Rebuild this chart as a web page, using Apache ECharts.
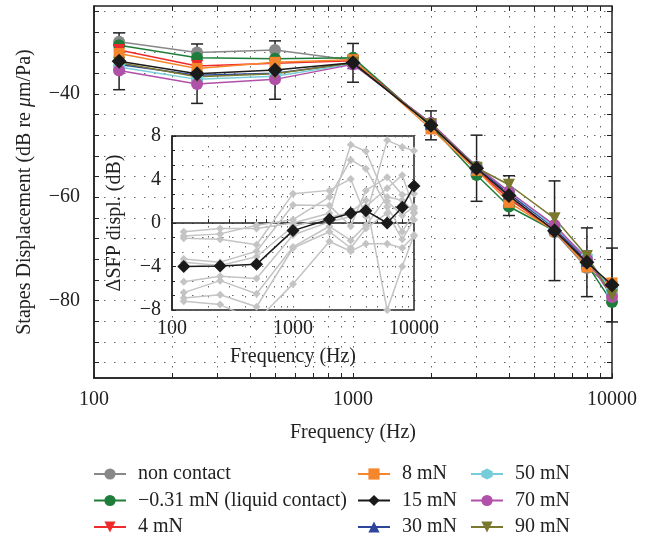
<!DOCTYPE html>
<html><head><meta charset="utf-8">
<script src="https://cdn.jsdelivr.net/npm/echarts@6/dist/echarts.min.js"></script>
<style>html,body{margin:0;padding:0;background:#fff}#c{width:649px;height:539px}</style>
</head><body><div id="c"></div>
<script>
// ---------- data ----------
const freqs = [125, 250, 500, 1000, 2000, 3000, 4000, 6000, 8000, 10000];
const seriesNames = ['non contact', '\u22120.31 mN (liquid contact)', '4 mN', '8 mN', '15 mN', '30 mN', '50 mN', '70 mN', '90 mN'];
const nonContact = [-29.9, -32.0, -31.5, -33.5, -46.0, -54.8, -60.0, -66.8, -73.7, -77.5];
const liquid     = [-30.6, -33.0, -33.2, -33.0, -46.3, -55.7, -61.8, -66.5, -73.0, -80.3];
const mN4        = [-31.5, -34.6, -34.1, -33.6, -46.0, -54.6, -60.4, -66.3, -72.8, -77.5];
const mN8        = [-32.2, -35.1, -33.9, -33.4, -46.8, -54.8, -61.0, -66.5, -73.5, -76.6];
const mN15       = [-33.7, -36.1, -35.4, -34.0, -46.1, -54.4, -59.7, -66.5, -72.6, -77.0];
const mN30       = [-34.3, -36.4, -36.0, -34.1, -45.8, -54.2, -59.3, -66.0, -72.3, -77.8];
const mN50       = [-34.8, -37.2, -36.6, -34.2, -45.7, -54.0, -58.9, -65.8, -71.6, -78.2];
const mN70       = [-35.5, -38.1, -37.2, -34.3, -45.6, -54.1, -58.9, -65.4, -72.0, -79.3];
const mN90       = [-34.0, -36.7, -36.1, -34.0, -45.9, -54.3, -57.6, -64.1, -71.4, -79.0];
const errHalf    = [5.5, 5.75, 5.65, 3.75, 2.8, 6.4, 3.85, 9.65, 6.65, 7.15];

// inset: individual ears (gray) and mean (black)
const insetMean = [-4.0, -3.95, -3.8, -0.7, 0.34, 0.9, 1.13, 0.0, 1.45, 3.4];
const ear1 = [-0.8, -0.5, -0.5, 0.0, 0.9, 7.2, 6.6, 2.0, 0.7, 1.5];
const ear2 = [-1.2, -1.0, -0.2, 0.3, 2.4, 5.8, 5.0, 1.5, -0.8, 0.9];
const ear3 = [-1.4, -1.5, -2.0, 2.7, 3.0, 4.05, 0.6, 7.6, 7.0, 6.65];
const ear4 = [-3.3, -3.6, -2.6, 1.65, 1.6, -0.3, 3.0, 4.2, 2.6, 2.7];
const ear5 = [-3.6, -3.9, -3.1, -0.3, 0.5, 1.0, 2.1, -8.0, -4.0, -1.1];
const ear6 = [-5.4, -4.9, -5.1, -1.1, 0.1, 0.6, 1.5, 3.2, 4.4, 1.3];
const ear7 = [-6.4, -5.3, -6.5, -2.2, -0.3, -1.6, -0.2, 2.4, 2.1, 1.0];
const ear8 = [-6.9, -6.6, -7.7, -2.3, -0.8, -2.3, -0.5, 0.9, -1.5, 0.3];
const ear9 = [-7.2, -7.5, -9.0, -5.6, -1.7, -2.6, -1.9, -1.9, -2.3, -1.2];

// axis ticks
const xMinorTicks = [100,200,300,400,500,600,700,800,900,1000,2000,3000,4000,5000,6000,7000,8000,9000,10000];
const xTickLabels = [100, 1000, 10000];
const yMainTicks = [-92,-88,-84,-80,-76,-72,-68,-64,-60,-56,-52,-48,-44,-40,-36,-32,-28,-24];
const yMainLabels = [-80, -60, -40];

// ---------- styling ----------
const FONT = 'Liberation Serif';
const FS = 20;
const TXT = '#222';
const colors = ['#888888', '#1f7d3b', '#ee2b2b', '#f5862b', '#1a1a1a', '#2d469c', '#74cdd8', '#b050a8', '#78782e'];
const hexagon = 'path://M5,0 L9.33,2.5 L9.33,7.5 L5,10 L0.67,7.5 L0.67,2.5 Z';
const symbols = ['circle', 'circle', 'triangle', 'rect', 'diamond', 'triangle', hexagon, 'circle', 'triangle'];
const symRot = [0, 0, 180, 0, 0, 0, 0, 0, 180];
const symSize = [12, 12, 12, 11, 15, 12, 12, 12, 12];
const mainData = [nonContact, liquid, mN4, mN8, mN15, mN30, mN50, mN70, mN90];
const ears = [ear1, ear2, ear3, ear4, ear5, ear6, ear7, ear8, ear9];
const minus = v => String(v).replace('-', '\u2212');
const plain = v => String(Math.round(v));
const dotted = {show: true, lineStyle: {color: '#666', width: 1, type: [1.5, 8.5]}};
const frame = {lineStyle: {color: '#222', width: 1.5}};
const tickStyle = {color: '#222', width: 1};

const chart = echarts.init(document.getElementById('c'), null, {renderer: 'canvas'});

const series = [];
// error bars around 15 mN
series.push({
  type: 'custom', xAxisIndex: 0, yAxisIndex: 0, z: 3, silent: true,
  data: freqs.map((f, i) => [f, mN15[i], errHalf[i]]),
  renderItem: function (params, api) {
    const x = api.value(0), y = api.value(1), e = api.value(2);
    const top = api.coord([x, y + e]);
    const bot = api.coord([x, y - e]);
    const w = 6;
    const st = {stroke: '#222', lineWidth: 1.5};
    return {type: 'group', children: [
      {type: 'line', shape: {x1: top[0], y1: top[1], x2: bot[0], y2: bot[1]}, style: st},
      {type: 'line', shape: {x1: top[0] - w, y1: top[1], x2: top[0] + w, y2: top[1]}, style: st},
      {type: 'line', shape: {x1: bot[0] - w, y1: bot[1], x2: bot[0] + w, y2: bot[1]}, style: st}
    ]};
  }
});
const drawOrder = [0, 1, 2, 3, 5, 6, 7, 8, 4];
drawOrder.forEach(k => {
  series.push({
    name: seriesNames[k], type: 'line', xAxisIndex: 0, yAxisIndex: 0,
    z: k === 4 ? 6 : 4,
    data: freqs.map((f, i) => [f, mainData[k][i]]),
    symbol: symbols[k], symbolSize: symSize[k], symbolRotate: symRot[k], showAllSymbol: true,
    lineStyle: {color: colors[k], width: 1.5},
    itemStyle: {color: colors[k]},
    animation: false
  });
});
ears.forEach((e, j) => {
  series.push({
    name: 'ear ' + (j + 1), type: 'line', xAxisIndex: 1, yAxisIndex: 1, z: 8,
    data: freqs.map((f, i) => [f, e[i]]),
    symbol: 'diamond', symbolSize: 8,
    lineStyle: {color: '#c4c4c4', width: 1.5}, itemStyle: {color: '#c4c4c4'},
    clip: true, animation: false
  });
});
series.push({
  name: 'mean', type: 'line', xAxisIndex: 1, yAxisIndex: 1, z: 9,
  data: freqs.map((f, i) => [f, insetMean[i]]),
  symbol: 'diamond', symbolSize: 13,
  lineStyle: {color: '#1a1a1a', width: 1.5}, itemStyle: {color: '#1a1a1a'},
  clip: false, animation: false
});

const legendText = {fontFamily: FONT, fontSize: 20, color: TXT, lineHeight: 20, padding: [0, 0, 0, 7]};
function legend(left, names) {
  return {orient: 'vertical', left: left, top: 464, height: 80, padding: 0, itemGap: 6.5,
    itemWidth: 32, itemHeight: 14, textStyle: legendText, data: names, selectedMode: false};
}

chart.setOption({
  animation: false,
  backgroundColor: '#fff',
  grid: [
    {left: 94, top: 6, width: 518, height: 372, show: true, borderColor: '#222', borderWidth: 1.5, backgroundColor: 'transparent', z: 0},
    {left: 172, top: 136, width: 242, height: 174, show: true, borderColor: '#222', borderWidth: 1.5, backgroundColor: '#fff', z: 7}
  ],
  legend: [
    legend(93, seriesNames.slice(0, 3)),
    legend(357, seriesNames.slice(3, 6)),
    legend(470, seriesNames.slice(6, 9))
  ],
  xAxis: [
    {type: 'log', gridIndex: 0, min: 100, max: 10000, logBase: 10,
      axisLine: frame,
      axisTick: {inside: true, length: 5, customValues: xMinorTicks, lineStyle: tickStyle},
      axisLabel: {customValues: xTickLabels, margin: 12, fontFamily: FONT, fontSize: FS, color: TXT, formatter: plain},
      splitLine: dotted,
      name: 'Frequency (Hz)', nameLocation: 'middle', nameGap: 45,
      nameTextStyle: {fontFamily: FONT, fontSize: FS, color: TXT}},
    {type: 'log', gridIndex: 1, min: 100, max: 10000, logBase: 10, z: 8,
      axisLine: frame,
      axisTick: {inside: true, length: 4, customValues: xMinorTicks, lineStyle: tickStyle},
      axisLabel: {customValues: xTickLabels, margin: 9, fontFamily: FONT, fontSize: FS, color: TXT, formatter: plain},
      splitLine: dotted,
      name: 'Frequency (Hz)', nameLocation: 'middle', nameGap: 37,
      nameTextStyle: {fontFamily: FONT, fontSize: FS, color: TXT}},
    {type: 'log', gridIndex: 0, min: 100, max: 10000, logBase: 10, position: 'top',
      axisLine: {show: false},
      axisTick: {inside: true, length: 5, customValues: xMinorTicks, lineStyle: tickStyle},
      axisLabel: {show: false}, splitLine: {show: false}}
  ],
  yAxis: [
    {type: 'value', gridIndex: 0, min: -95, max: -23,
      axisLine: frame,
      axisTick: {inside: true, length: 5, customValues: yMainTicks, lineStyle: tickStyle},
      axisLabel: {customValues: yMainLabels, margin: 14, fontFamily: FONT, fontSize: FS, color: TXT, formatter: minus},
      splitLine: dotted,
      name: '{a|Stapes Displacement (dB re }{i|\u03bc}{a|m/Pa)}', nameLocation: 'middle', nameGap: 59,
      nameTextStyle: {rich: {
        a: {fontFamily: FONT, fontSize: FS, color: TXT},
        i: {fontFamily: FONT, fontSize: FS, color: TXT, fontStyle: 'italic'}}}},
    {type: 'value', gridIndex: 1, min: -8, max: 8, interval: 4, z: 8,
      axisLine: frame,
      axisTick: {inside: true, length: 4, lineStyle: tickStyle},
      minorTick: {show: true, splitNumber: 3, length: 3, lineStyle: tickStyle},
      minorSplitLine: dotted,
      axisLabel: {margin: 11, fontFamily: FONT, fontSize: FS, color: TXT, formatter: minus},
      splitLine: dotted,
      name: '\u0394SFP displ. (dB)', nameLocation: 'middle', nameGap: 47,
      nameTextStyle: {fontFamily: FONT, fontSize: FS, color: TXT}},
    {type: 'value', gridIndex: 0, min: -95, max: -23, position: 'right',
      axisLine: {show: false},
      axisTick: {inside: true, length: 5, customValues: yMainTicks, lineStyle: tickStyle},
      axisLabel: {show: false}, splitLine: {show: false}}
  ],
  series: series
});
</script></body></html>
